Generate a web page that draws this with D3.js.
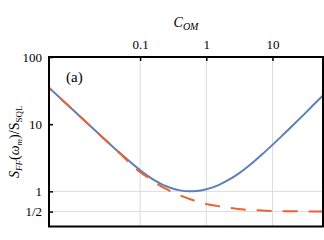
<!DOCTYPE html>
<meta charset="utf-8">
<script src="https://cdn.jsdelivr.net/npm/d3@7"></script>
<style>
  body { margin: 0; background: #fff; }
  svg text { font-family: "Liberation Serif", "Times New Roman", "DejaVu Serif", serif; }
</style>
<body>
<script>

// coupling values (x axis) and the two noise curves
var cValues   = [0.004, 0.01, 0.02, 0.05, 0.1, 0.15, 0.2, 0.25, 0.3, 0.4, 0.56, 0.7, 1, 1.5, 2, 3, 5, 7, 10, 15, 20, 30, 40, 60]
var fullCurve = [36.5, 15.8, 8.4, 3.69, 2.07, 1.55, 1.32, 1.19, 1.115, 1.035, 1.0, 1.01, 1.075, 1.23, 1.42, 1.81, 2.67, 3.56, 4.92, 7.2, 9.46, 14.0, 18.6, 27.8]
var ffCurve   = [36.5, 15.8, 8.4, 3.62, 1.93, 1.49, 1.22, 1.08, 0.98, 0.87, 0.77, 0.715, 0.65, 0.603, 0.578, 0.545, 0.525, 0.518, 0.512, 0.508, 0.506, 0.504, 0.503, 0.502]

var xTicks = [0.1, 1, 10]
var xTickLabels = ["0.1", "1", "10"]
var yTicks = [100, 10, 1, 0.5]
var yTickLabels = ["100", "10", "1", "1/2"]
var xGrid = [0.1, 1, 10]
var yGrid = [1, 0.5]

var width = 324
var height = 240
var pLeft = 49, pRight = 323, pTop = 57, pBottom = 226.5
var serif = "Liberation Serif, Times New Roman, DejaVu Serif, serif"

var x = d3.scaleLog().domain([0.0042, 58]).range([pLeft, pRight]);
var y = d3.scaleLog().domain([0.3, 100]).range([pBottom, pTop]);

var svg = d3.select("body").append("svg")
            .attr("width", width)
            .attr("height", height);

svg.append("clipPath").attr("id", "plotclip")
   .append("rect")
   .attr("x", pLeft).attr("y", pTop)
   .attr("width", pRight - pLeft).attr("height", pBottom - pTop);

// grid lines
svg.selectAll(".vgrid").data(xGrid).enter().append("line")
   .attr("x1", d => x(d)).attr("x2", d => x(d))
   .attr("y1", pTop).attr("y2", pBottom)
   .attr("stroke", "#dcdcdc").attr("stroke-width", 1);
svg.selectAll(".hgrid").data(yGrid).enter().append("line")
   .attr("x1", pLeft).attr("x2", pRight)
   .attr("y1", d => y(d)).attr("y2", d => y(d))
   .attr("stroke", "#dcdcdc").attr("stroke-width", 1);

// curves
var line = d3.line()
  .x(function(d, i) { return x(cValues[i]); })
  .y(function(d) { return y(d); })
  .curve(d3.curveMonotoneX);

var plot = svg.append("g").attr("clip-path", "url(#plotclip)");
plot.append("path").attr("d", line(fullCurve))
    .attr("fill", "none").attr("stroke", "#5E81B5").attr("stroke-width", 2);
plot.append("path").attr("d", line(ffCurve))
    .attr("fill", "none").attr("stroke", "#EB6235").attr("stroke-width", 2)
    .attr("stroke-dasharray", "15 11").attr("stroke-dashoffset", 9);

// top axis (ticks inward)
svg.append("g")
   .attr("transform", "translate(0," + pTop + ")")
   .attr("font-family", serif)
   .call(d3.axisTop(x).tickValues(xTicks).tickSizeInner(-4).tickSizeOuter(0)
          .tickPadding(8).tickFormat((d, i) => xTickLabels[i]))
   .call(g => g.attr("font-family", serif).attr("font-size", 13))
   .call(g => g.select(".domain").remove())
   .call(g => g.selectAll("line").attr("stroke", "#000").attr("stroke-width", 1.5))
   .call(g => g.selectAll("text").attr("fill", "#000"));

// left axis (ticks inward)
svg.append("g")
   .attr("transform", "translate(" + pLeft + ",0)")
   .call(d3.axisLeft(y).tickValues(yTicks).tickSizeInner(-4).tickSizeOuter(0)
          .tickPadding(7).tickFormat((d, i) => yTickLabels[i]))
   .call(g => g.attr("font-family", serif).attr("font-size", 13))
   .call(g => g.select(".domain").remove())
   .call(g => g.selectAll("line").attr("stroke", "#000").attr("stroke-width", 1.5))
   .call(g => g.selectAll("text").attr("fill", "#000"));

// frame
svg.append("rect")
   .attr("x", pLeft).attr("y", pTop)
   .attr("width", pRight - pLeft).attr("height", pBottom - pTop)
   .attr("fill", "none").attr("stroke", "#000").attr("stroke-width", 2);

// panel label
svg.append("text")
   .attr("x", 66).attr("y", 82)
   .attr("font-size", 15)
   .text("(a)");

// x axis title
var xt = svg.append("text")
   .attr("x", (pLeft + pRight) / 2).attr("y", 27)
   .attr("text-anchor", "middle")
   .attr("font-size", 14);
xt.append("tspan").attr("font-style", "italic").text("C");
xt.append("tspan").attr("font-style", "italic").attr("font-size", 10).attr("dy", 3).text("OM");

// y axis title
var yt = svg.append("text")
   .attr("transform", "translate(19," + ((pTop + pBottom) / 2) + ") rotate(-90)")
   .attr("text-anchor", "middle")
   .attr("font-size", 14);
yt.append("tspan").attr("font-style", "italic").text("S");
yt.append("tspan").attr("font-style", "italic").attr("font-size", 9).attr("dy", 3).text("FF");
yt.append("tspan").attr("dy", -3).text("(");
yt.append("tspan").attr("font-style", "italic").text("ω");
yt.append("tspan").attr("font-style", "italic").attr("font-size", 9).attr("dy", 3).text("m");
yt.append("tspan").attr("dy", -3).text(")/S");
yt.append("tspan").attr("font-size", 9).attr("dy", 3).text("SQL");

</script>
</body>
